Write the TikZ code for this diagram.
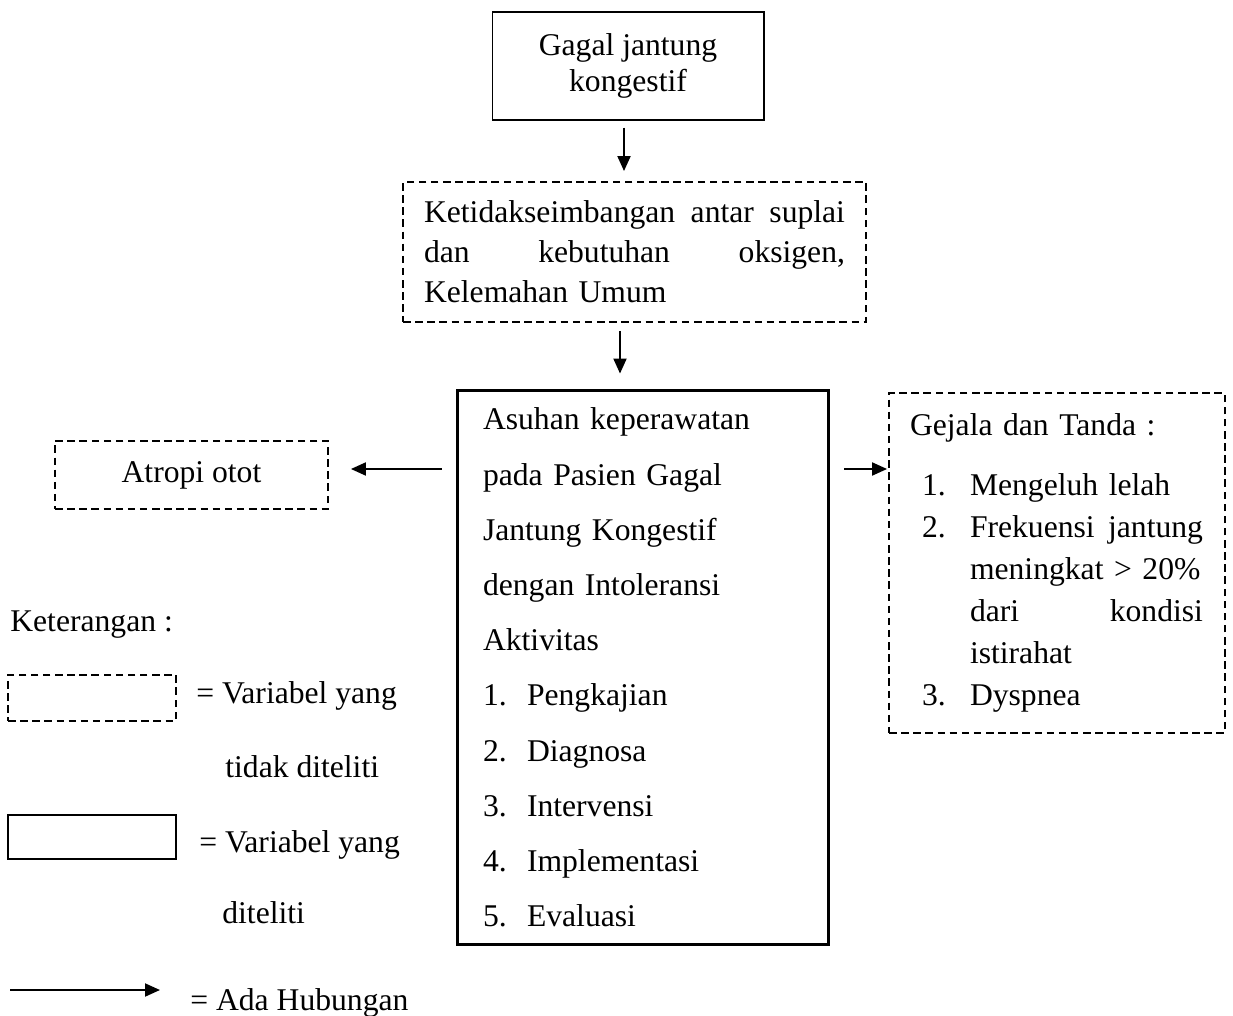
\documentclass[tikz,border=0pt]{standalone}
\usepackage{fontspec}
\setmainfont{Liberation Serif}
\usepackage{tikz}
\usetikzlibrary{positioning, arrows.meta, calc}
\tikzset{>={Triangle[length=0.3cm,width=0.26cm]}}
\newcommand{\mainitem}[1]{\makebox[0.88cm][l]{#1}}
\newcommand{\gejitem}[1]{\hspace*{0.24cm}\makebox[0.96cm][l]{#1}}

\begin{document}
\begin{tikzpicture}[x=0.02cm,y=-0.02cm,
  every node/.style={font=\fontsize{18}{21}\selectfont, inner sep=0pt},
  solidbox/.style={draw, line width=0.6pt},
  dashbox/.style={draw, line width=1.1pt, dash pattern=on 4.3pt off 2.6pt},
  arr/.style={->, line width=1.1pt}]
\useasboundingbox (0,0) rectangle (1233,1016);

% flow
\node[solidbox, minimum width=5.44cm, minimum height=2.16cm, align=center,
  font=\fontsize{18}{20.4}\selectfont] (gagal) at (628,66) {Gagal jantung\\kongestif};
\node[dashbox, minimum width=9.26cm, minimum height=2.8cm, text width=8.42cm, align=left,
  font=\fontsize{18}{22.8}\selectfont] (ketidak) at (634.5,252)
  {Ketidakseimbangan \hfill antar \hfill suplai\\
   dan \hfill kebutuhan \hfill oksigen,\\
   Kelemahan Umum};
\node[draw, line width=1.7pt, minimum width=7.44cm, minimum height=11.1cm, text width=6.4cm,
  align=left, font=\fontsize{18}{31.4}\selectfont] (asuhan) at (643,667.5)
  {Asuhan keperawatan\\
   pada Pasien Gagal\\
   Jantung Kongestif\\
   dengan Intoleransi\\
   Aktivitas\\
   \mainitem{1.}Pengkajian\\
   \mainitem{2.}Diagnosa\\
   \mainitem{3.}Intervensi\\
   \mainitem{4.}Implementasi\\
   \mainitem{5.}Evaluasi};
\node[dashbox, minimum width=5.46cm, minimum height=1.36cm] (atropi) at (191.5,475) {Atropi otot};
\node[dashbox, minimum width=6.72cm, minimum height=6.8cm, text width=5.88cm, align=left,
  font=\fontsize{18}{23.9}\selectfont] (gejala) at (1057,563)
  {Gejala dan Tanda :\\[0.36cm]
   \gejitem{1.}Mengeluh lelah\\
   \gejitem{2.}\hbox to 4.66cm{Frekuensi\hfill jantung}\\
   \hspace*{1.2cm}meningkat > 20\%\\
   \hspace*{1.2cm}\hbox to 4.66cm{dari\hfill kondisi}\\
   \hspace*{1.2cm}istirahat\\
   \gejitem{3.}Dyspnea};

\coordinate (sidey) at (0,469);
\draw[arr, shorten <=0.14cm, shorten >=0.2cm] ([xshift=-0.08cm]gagal.south) -- ([xshift=-0.08cm]gagal.south |- ketidak.north);
\draw[arr, shorten <=0.16cm, shorten >=0.3cm] ([xshift=-0.29cm]ketidak.south) -- ([xshift=-0.29cm]ketidak.south |- asuhan.north);
\draw[arr, shorten <=0.28cm, shorten >=0.44cm] (asuhan.west |- sidey) -- (atropi.east |- sidey);
\draw[arr, shorten <=0.28cm, shorten >=0.02cm] (asuhan.east |- sidey) -- (gejala.west |- sidey);

% keterangan
\node[anchor=base west] (keterangan) at (10,631) {Keterangan :};
\node[dashbox, minimum width=3.36cm, minimum height=0.92cm] (lgdash) at (92,698) {};
\node[anchor=base west] (lgdashtxt) at (196,703) {= Variabel yang};
\node[anchor=base west] (lgdashtxtb) at (225,777) {tidak diteliti};
\node[draw, line width=1.1pt, minimum width=3.36cm, minimum height=0.88cm] (lgsolid) at (92,837) {};
\node[anchor=base west] (lgsolidtxt) at (199,852) {= Variabel yang};
\node[anchor=base west] (lgsolidtxtb) at (222,923) {diteliti};
\coordinate (lgarrowstart) at (10,990);
\coordinate (lgarrowend) at (160,990);
\draw[arr] (lgarrowstart) -- (lgarrowend);
\node[anchor=base west] (lgarrowtxt) at (190,1010) {= Ada Hubungan};
\end{tikzpicture}
\end{document}
